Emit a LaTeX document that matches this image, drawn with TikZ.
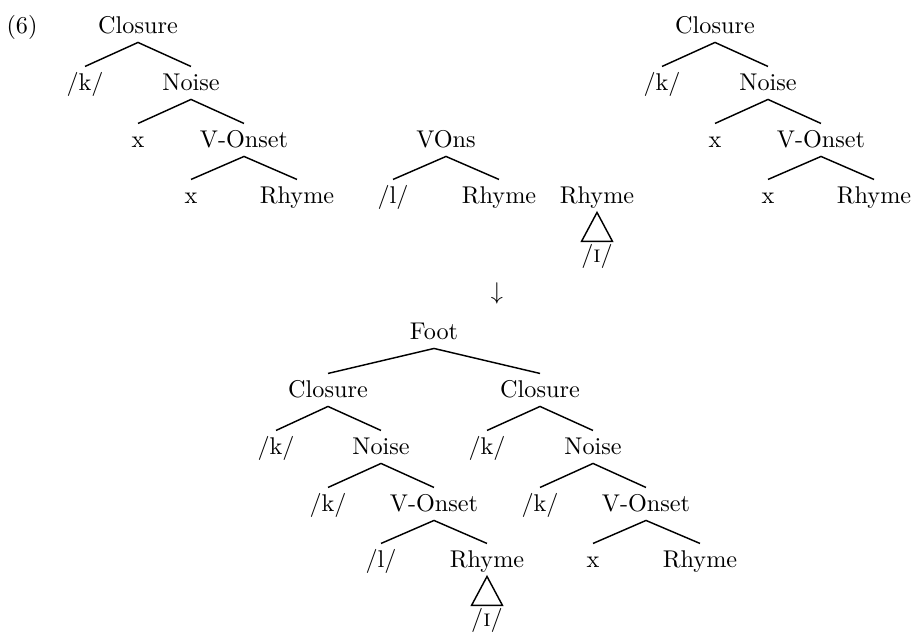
\documentclass[tikz,border=0pt]{standalone}
\usetikzlibrary{calc}
\begin{document}
\begin{tikzpicture}[x=0.413pt,y=-0.413pt,
  lab/.style={anchor=base,inner xsep=1pt,inner ysep=2.7pt,text height=6.83pt,text depth=1pt},
  br/.style={line width=0.6pt},
  tri/.style={line width=0.6pt,line join=miter}]
\useasboundingbox (0,0) rectangle (912,631);
% label
\node[anchor=base] (ex) at (22,33) {(6)};
% top-left tree
\node[lab] (aC) at (138,33) {Closure};
\node[lab] (aK) at (85,90) {/k/};
\node[lab] (aN) at (191,90) {Noise};
\node[lab] (aX1) at (138,147) {x};
\node[lab] (aV) at (244,147) {V-Onset};
\node[lab] (aX2) at (191,203) {x};
\node[lab] (aR) at (297,203) {Rhyme};
\draw[br] (aK.north) -- (aC.south) -- (aN.north);
\draw[br] (aX1.north) -- (aN.south) -- (aV.north);
\draw[br] (aX2.north) -- (aV.south) -- (aR.north);
% middle
\node[lab] (bV) at (446,147) {VOns};
\node[lab] (bL) at (393,203) {/l/};
\node[lab] (bR) at (499,203) {Rhyme};
\draw[br] (bL.north) -- (bV.south) -- (bR.north);
\node[lab] (cR) at (597,203) {Rhyme};
\node[lab] (cI) at (597,262) {/\textsc{i}/};
\draw[tri] (cR.south) -- ($(cI.north)+(-15.5,3)$) -- ($(cI.north)+(15.5,3)$) -- cycle;
\node[anchor=base] (arr) at (497,299) {$\downarrow$};
% top-right tree
\node[lab] (dC) at (715,33) {Closure};
\node[lab] (dK) at (662,90) {/k/};
\node[lab] (dN) at (768,90) {Noise};
\node[lab] (dX1) at (715,147) {x};
\node[lab] (dV) at (821,147) {V-Onset};
\node[lab] (dX2) at (768,203) {x};
\node[lab] (dR) at (874,203) {Rhyme};
\draw[br] (dK.north) -- (dC.south) -- (dN.north);
\draw[br] (dX1.north) -- (dN.south) -- (dV.north);
\draw[br] (dX2.north) -- (dV.south) -- (dR.north);
% bottom tree
\node[lab] (F) at (434,339) {Foot};
\node[lab] (eC) at (328,397) {Closure};
\node[lab] (eK) at (276,454) {/k/};
\node[lab] (eN) at (381,454) {Noise};
\node[lab] (eK2) at (328,511) {/k/};
\node[lab] (eV) at (434,511) {V-Onset};
\node[lab] (eL) at (381,567) {/l/};
\node[lab] (eR) at (487,567) {Rhyme};
\node[lab] (eI) at (487,626) {/\textsc{i}/};
\node[lab] (fC) at (540,397) {Closure};
\node[lab] (fK) at (487,454) {/k/};
\node[lab] (fN) at (593,454) {Noise};
\node[lab] (fK2) at (540,511) {/k/};
\node[lab] (fV) at (646,511) {V-Onset};
\node[lab] (fX) at (593,567) {x};
\node[lab] (fR) at (700,567) {Rhyme};
\draw[br] (eC.north) -- (F.south) -- (fC.north);
\draw[br] (eK.north) -- (eC.south) -- (eN.north);
\draw[br] (eK2.north) -- (eN.south) -- (eV.north);
\draw[br] (eL.north) -- (eV.south) -- (eR.north);
\draw[tri] (eR.south) -- ($(eI.north)+(-15.5,3)$) -- ($(eI.north)+(15.5,3)$) -- cycle;
\draw[br] (fK.north) -- (fC.south) -- (fN.north);
\draw[br] (fK2.north) -- (fN.south) -- (fV.north);
\draw[br] (fX.north) -- (fV.south) -- (fR.north);
\end{tikzpicture}
\end{document}
